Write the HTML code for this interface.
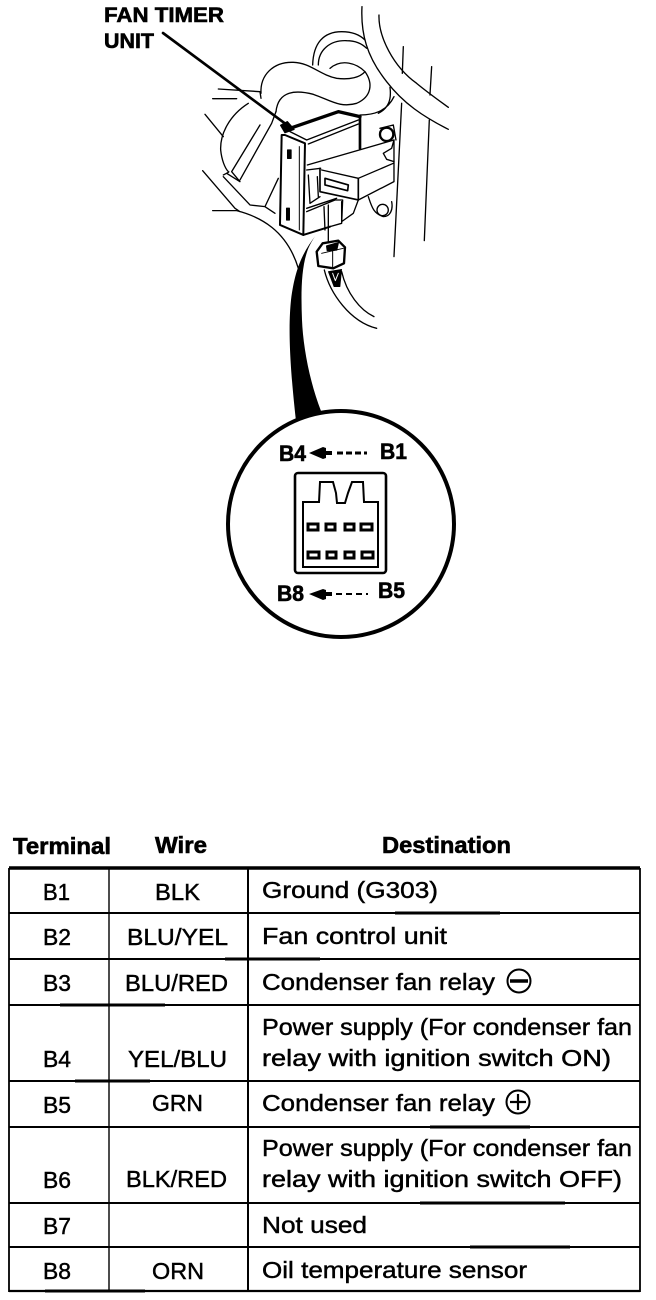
<!DOCTYPE html>
<html><head><meta charset="utf-8">
<style>
html,body{margin:0;padding:0;background:#fff;width:656px;height:1300px;overflow:hidden}
svg{display:block}
text{font-family:"Liberation Sans",sans-serif;fill:#000;stroke:#000;stroke-width:.45}
.b{font-weight:bold;stroke-width:.6}
</style></head><body>
<svg width="656" height="1300" viewBox="0 0 656 1300" xmlns="http://www.w3.org/2000/svg">
<text class="b" x="104" y="22" font-size="21" textLength="120" lengthAdjust="spacingAndGlyphs">FAN TIMER</text>
<text class="b" x="104" y="48" font-size="21" textLength="50" lengthAdjust="spacingAndGlyphs">UNIT</text>

<!-- illustration in 3x zoom coordinates -->
<g transform="translate(190,0) scale(.3333)" fill="none" stroke="#000" stroke-width="4" stroke-linejoin="round" stroke-linecap="round">
<path d="M-81 99L291 375" stroke-width="8"/>
<path d="M292 365L272 376L285 398L312 388Z" fill="#000"/>
<path d="M516 20C512 100 530 170 590 245C640 310 700 350 775 388"/>
<path d="M567 45C565 110 610 200 680 250C710 275 745 300 775 322"/>
<path d="M640 140L637 220M725 200L720 285M635 310L612 770M718 360L703 722"/>
<path d="M368 195C370 130 400 95 455 95C490 95 510 105 525 120M385 195C385 150 420 120 470 122C495 122 515 130 530 145"/>
<path d="M213 280C210 225 250 185 310 187C360 188 390 225 440 235C480 240 510 232 525 215C500 190 455 175 420 205"/>
<path d="M525 215C550 250 545 290 500 310C450 325 420 300 370 283C320 270 265 270 258 335"/>
<path d="M565 340C595 325 605 300 600 262M510 345C550 345 590 335 612 290"/>
<path d="M85 267L210 275M68 296L140 296M210 275L213 295M45 343L100 410"/>
<path d="M175 310C120 345 90 400 92 450C95 480 105 505 115 515C120 515 110 520 100 525"/>
<path d="M210 375L125 515L150 545L110 520M258 335L245 370L150 540"/>
<path d="M38 512L135 625L150 635M100 530L180 615L225 620L265 535M225 620L255 640M68 632L140 632C210 650 290 690 325 805"/>
<!-- module -->
<path d="M300 385L445 335L510 350" stroke-width="10"/>
<path d="M510 350L510 445" stroke-width="8"/>
<path d="M300 395L350 420L505 360M355 432L505 372"/>
<path d="M275 405L270 675L340 705L345 430L285 405Z" stroke-width="6"/>
<path d="M328 440L328 690" stroke-width="3"/>
<path d="M293 450L303 450L303 475L293 475Z" fill="#000"/>
<path d="M290 625L298 625L298 660L290 660Z" fill="#000"/>
<path d="M340 705L420 680" stroke-width="6"/>
<path d="M352 495L612 420L612 545L505 600"/>
<path d="M612 420L605 445L580 460L590 478L612 485M395 510L505 535L610 490"/>
<path d="M390 505L390 575L505 600L505 535" stroke-width="5"/>
<path d="M405 535L475 555L473 572L405 555Z" stroke-width="5"/>
<path d="M350 510L392 505M355 525L360 610L390 590M382 530L385 590M350 635L435 600L458 600L455 670L420 680M350 625L440 595" stroke-width="4"/>
<path d="M455 605L455 665L490 640L505 600M402 620L405 690M415 615L415 725" stroke-width="4"/>
<circle cx="590" cy="403" r="20" stroke-width="7"/>
<path d="M570 385L610 375L618 420"/>
<path d="M535 590C545 620 550 640 580 650C600 650 610 630 605 605" stroke-width="4"/>
<circle cx="578" cy="630" r="17"/>
<!-- connector -->
<path d="M398 730L445 722L465 742L462 790L430 805L385 798L380 755Z" stroke-width="7"/>
<path d="M428 740L428 805M395 760L460 745" stroke-width="3"/>
<path d="M410 738L445 728L440 750L412 752Z" fill="#000"/>
<path d="M403 810C420 880 480 965 560 985M455 815C470 880 510 930 552 950" stroke-width="4"/>
<path d="M415 815L455 808L450 860L432 860Z" fill="#000" stroke-width="2"/>
<path d="M428 820L436 842L445 820" stroke="#fff" stroke-width="3"/>
</g>

<!-- thick wedge -->
<path d="M316 235C303 252 295 268 291 300C289 320 288 350 296 421L321 411C309 380 303 345 302 320C301 295 301 270 307 252C310 243 316 235 316 235Z" fill="#000"/>

<!-- circle -->
<circle cx="341" cy="524" r="113" fill="none" stroke="#000" stroke-width="4"/>
<text class="b" x="279" y="461" font-size="22" textLength="27" lengthAdjust="spacingAndGlyphs">B4</text>
<text class="b" x="380" y="459" font-size="22" textLength="27" lengthAdjust="spacingAndGlyphs">B1</text>
<text class="b" x="277" y="601" font-size="22" textLength="27" lengthAdjust="spacingAndGlyphs">B8</text>
<text class="b" x="378" y="598" font-size="22" textLength="27" lengthAdjust="spacingAndGlyphs">B5</text>
<path d="M309 453L323 447L326 448V451H332V455H326V458L323 459Z" fill="#000"/>
<path d="M309 594L323 589L326 590V592H332V596H326V599L323 600Z" fill="#000"/>
<path d="M337 453H367" stroke="#000" stroke-width="3" stroke-dasharray="6 3" fill="none"/>
<path d="M336 594H368" stroke="#000" stroke-width="2" stroke-dasharray="6 4" fill="none"/>
<rect x="295" y="473" width="91" height="100" rx="3" fill="none" stroke="#000" stroke-width="2.6"/>
<path d="M303 567V502H319L320 482H333L336 493L337 503H345L348 493L352 482H363L364 502H378V567Z" fill="none" stroke="#000" stroke-width="2"/>
<g fill="none" stroke="#000" stroke-width="3">
<rect x="308" y="524" width="10" height="6"/><rect x="326" y="524" width="9" height="6"/><rect x="345" y="524" width="9" height="6"/><rect x="361" y="524" width="11" height="6"/>
<rect x="308" y="552" width="11" height="6"/><rect x="327" y="552" width="9" height="6"/><rect x="345" y="552" width="9" height="6"/><rect x="362" y="552" width="11" height="6"/>
</g>

<!-- headers -->
<text class="b" x="13" y="854" font-size="23" textLength="98" lengthAdjust="spacingAndGlyphs">Terminal</text>
<text class="b" x="155" y="853" font-size="23" textLength="52" lengthAdjust="spacingAndGlyphs">Wire</text>
<text class="b" x="382" y="853" font-size="23" textLength="129" lengthAdjust="spacingAndGlyphs">Destination</text>

<!-- table -->
<g stroke="#000" fill="none">
<path d="M9 868H640" stroke-width="3.5"/>
<path d="M9 913H640M9 959H640M9 1005H640M9 1081H640M9 1127H640M9 1203H640M9 1247H640" stroke-width="2"/>
<path d="M9 1291H640" stroke-width="2.2"/>
<path d="M9 868V1292M640 868V1292" stroke-width="1.8"/>
<path d="M109 868V1292" stroke-width="1.4"/>
<path d="M248 868V1292" stroke-width="2"/>
<path d="M395 913H500M225 959H320M60 1005H165M75 1081H150M430 1127H530M420 1203H565M470 1247H570M45 1291H145" stroke-width="3"/>
</g>

<g font-size="23">
<text x="43" y="900" textLength="27" lengthAdjust="spacingAndGlyphs">B1</text>
<text x="43" y="945" textLength="28" lengthAdjust="spacingAndGlyphs">B2</text>
<text x="43" y="991" textLength="28" lengthAdjust="spacingAndGlyphs">B3</text>
<text x="43" y="1067" textLength="28" lengthAdjust="spacingAndGlyphs">B4</text>
<text x="43" y="1113" textLength="28" lengthAdjust="spacingAndGlyphs">B5</text>
<text x="43" y="1188" textLength="28" lengthAdjust="spacingAndGlyphs">B6</text>
<text x="43" y="1234" textLength="28" lengthAdjust="spacingAndGlyphs">B7</text>
<text x="43" y="1279" textLength="28" lengthAdjust="spacingAndGlyphs">B8</text>

<text x="155" y="900" textLength="45" lengthAdjust="spacingAndGlyphs">BLK</text>
<text x="127" y="945" textLength="101" lengthAdjust="spacingAndGlyphs">BLU/YEL</text>
<text x="125" y="991" textLength="103" lengthAdjust="spacingAndGlyphs">BLU/RED</text>
<text x="128" y="1067" textLength="99" lengthAdjust="spacingAndGlyphs">YEL/BLU</text>
<text x="152" y="1111" textLength="51" lengthAdjust="spacingAndGlyphs">GRN</text>
<text x="126" y="1187" textLength="101" lengthAdjust="spacingAndGlyphs">BLK/RED</text>
<text x="152" y="1279" textLength="52" lengthAdjust="spacingAndGlyphs">ORN</text>

<text x="262" y="898" textLength="176" lengthAdjust="spacingAndGlyphs">Ground (G303)</text>
<text x="262" y="944" textLength="185" lengthAdjust="spacingAndGlyphs">Fan control unit</text>
<text x="262" y="990" textLength="233" lengthAdjust="spacingAndGlyphs">Condenser fan relay</text>
<text x="262" y="1035" textLength="370" lengthAdjust="spacingAndGlyphs">Power supply (For condenser fan</text>
<text x="262" y="1066" textLength="349" lengthAdjust="spacingAndGlyphs">relay with ignition switch ON)</text>
<text x="262" y="1111" textLength="233" lengthAdjust="spacingAndGlyphs">Condenser fan relay</text>
<text x="262" y="1156" textLength="370" lengthAdjust="spacingAndGlyphs">Power supply (For condenser fan</text>
<text x="262" y="1187" textLength="360" lengthAdjust="spacingAndGlyphs">relay with ignition switch OFF)</text>
<text x="262" y="1233" textLength="105" lengthAdjust="spacingAndGlyphs">Not used</text>
<text x="262" y="1278" textLength="265" lengthAdjust="spacingAndGlyphs">Oil temperature sensor</text>
</g>
<g fill="none" stroke="#000">
<circle cx="519" cy="981" r="11.5" stroke-width="2"/>
<path d="M510 981H528" stroke-width="3.5"/>
<circle cx="518" cy="1102" r="11.5" stroke-width="2"/>
<path d="M510 1102H526M518 1094V1110" stroke-width="2.2"/>
</g>
</svg>
</body></html>
